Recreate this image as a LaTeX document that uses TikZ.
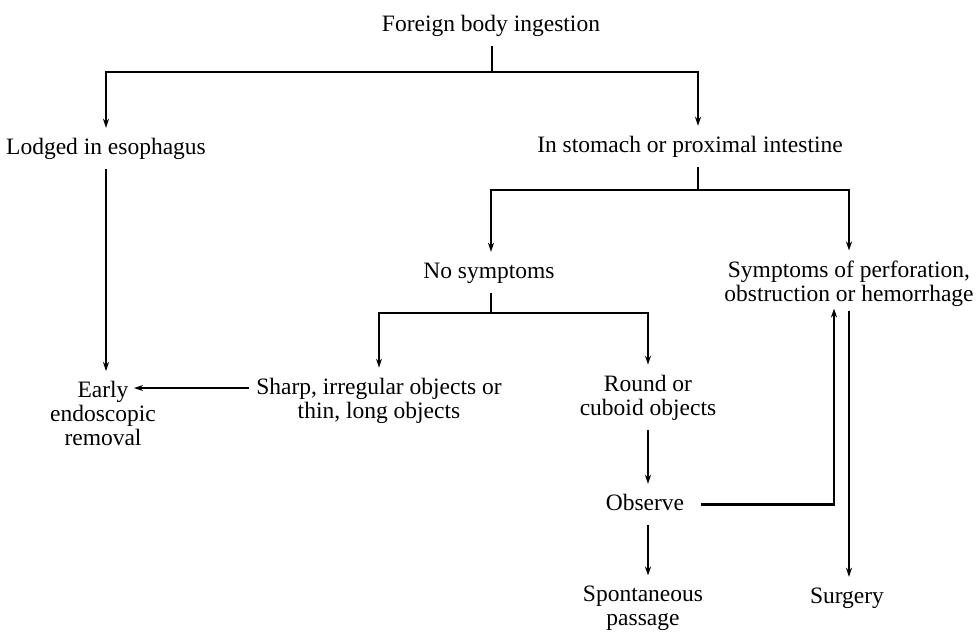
\documentclass[tikz,border=0pt]{standalone}
\usepackage{fontspec}
\setmainfont{Liberation Serif}
\usetikzlibrary{arrows.meta,calc}
\begin{document}
\begin{tikzpicture}[x=1pt,y=-1pt,
  every node/.style={font=\fontsize{23.5}{24}\selectfont, inner xsep=7pt, inner ysep=10pt, align=center},
  one/.style={text height=16pt, text depth=5pt},
  ln/.style={line width=2.3pt},
  arr/.style={ln, -{Stealth[length=9pt,width=6pt]}}]
\useasboundingbox (0,0) rectangle (978,632);
\fill[white] (0,0) rectangle (978,632);
% nodes
\node[one] (fbi) at (491,25.5) {Foreign body ingestion};
\node[one] (lod) at (106,148.5) {Lodged in esophagus};
\node[one] (sto) at (690,146.5) {In stomach or proximal intestine};
\node[one] (nos) at (489,272.5) {No symptoms};
\node (sym) at (849,283.5) {Symptoms of perforation,\\obstruction or hemorrhage};
\node (sharp) at (379,400.5) {Sharp, irregular objects or\\thin, long objects};
\node (early) at (103,413.5) {Early\\endoscopic\\removal};
\node (round) at (648,397.5) {Round or\\cuboid objects};
\node[one] (obs) at (645,504.5) {Observe};
\node (spon) at (643,608) {Spontaneous\\passage};
\node[one] (surg) at (847,597.5) {Surgery};
% junctions
\coordinate (j1) at (492,72);
\coordinate (j2) at (698,190);
\coordinate (j3) at (491,313);
\coordinate (eA) at ($(early.north)+(31,17)$);
% connectors
\draw[ln] (fbi.south -| j1) -- (j1);
\draw[arr] (j1) -| (lod.north);
\draw[arr] (j1) -| ($(sto.north)+(8,0)$);
\draw[ln] ($(sto.south)+(8,0)$) -- (j2);
\draw[arr] (j2) -| (nos.north -| j3);
\draw[arr] (j2) -| (sym.north);
\draw[ln] (nos.south -| j3) -- (j3);
\draw[arr] (j3) -| (sharp.north);
\draw[arr] (j3) -| (round.north);
\draw[arr] (lod.south) -- (lod.south |- early.north);
\draw[arr] (sharp.west |- eA) -- (eA);
\draw[arr] (round.south) -- (round.south |- obs.north);
\draw[arr] (round.south |- obs.south) -- (round.south |- spon.north);
\draw[arr] ($(obs.east)+(10,0)$) -| ($(sym.south)+(-15,-8)$);
\draw[arr] ($(sym.south)+(0,-6)$) -- (sym.south |- surg.north);
\end{tikzpicture}
\end{document}
